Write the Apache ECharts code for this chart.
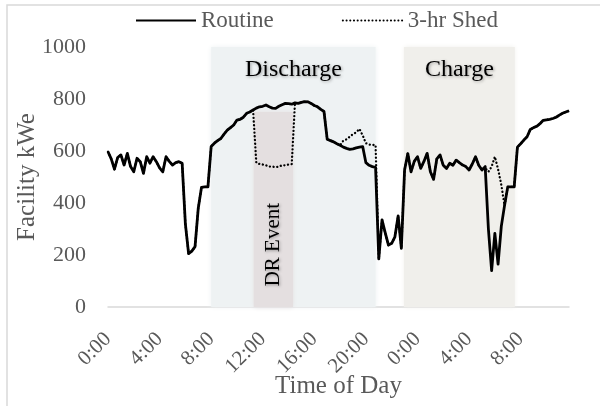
<!DOCTYPE html>
<html><head><meta charset="utf-8">
<script src="https://cdn.jsdelivr.net/npm/echarts@6/dist/echarts.min.js"></script>
<style>html,body{margin:0;padding:0;background:#fff}#c{width:600px;height:406px}</style>
</head><body><div id="c"></div>
<script>
// 15-minute samples over 36 hours (0:00 day 1 to 11:45 day 2)
const stepHours = 0.25;
const routine = [
 597,570,530,575,585,546,591,540,520,572,
 559,514,578,553,578,559,535,520,578,560,
 546,555,559,553,320,205,215,232,380,460,
 462,462,617,630,640,648,665,680,690,700,
 719,722,730,745,750,758,765,770,772,777,
 770,765,764,772,778,783,782,780,785,783,
 787,790,789,783,775,770,760,752,645,640,
 635,628,622,615,610,606,608,612,615,617,
 555,545,540,537,185,335,285,238,245,270,
 350,226,527,590,520,560,578,533,560,591,
 520,491,570,585,545,533,553,545,565,555,
 546,540,527,550,578,545,527,540,300,140,
 283,165,310,390,462,462,462,615,628,642,
 655,683,690,695,705,718,720,722,725,730,
 738,745,750,755
];
const shed = [
 597,570,530,575,585,546,591,540,520,572,
 559,514,578,553,578,559,535,520,578,560,
 546,555,559,553,320,205,215,232,380,460,
 462,462,617,630,640,648,665,680,690,700,
 719,722,730,745,750,758,555,550,548,545,
 540,540,538,540,545,545,548,550,785,783,
 787,790,789,783,775,770,760,752,645,640,
 635,628,622,640,645,655,665,672,685,660,
 630,625,623,623,185,335,285,238,245,270,
 350,226,527,590,520,560,578,533,560,591,
 520,491,570,585,545,533,553,545,565,555,
 546,540,527,550,578,545,527,535,520,540,
 578,530,470,390,462,462,462,615,628,642,
 655,683,690,695,705,718,720,722,725,730,
 738,745,750,755
];
const xTickLabels = ['0:00','4:00','8:00','12:00','16:00','20:00','0:00','4:00','8:00'];
const yTicks = [0,200,400,600,800,1000];
// shaded periods in hours from start: [start, end, top kWe]
const dischargeBand = [8.0, 20.75, 1000];
const chargeBand = [22.95, 31.55, 1000];
const drBand = [11.3, 14.35, 750];

const hours = routine.map((_, i) => i * stepHours);
const pair = arr => arr.map((v, i) => [hours[i], v]);

const FONT = 'Liberation Serif';
const GREY = '#595959';
const chart = echarts.init(document.getElementById('c'), null, {renderer: 'canvas'});
chart.setOption({
  animation: false,
  backgroundColor: '#ffffff',
  grid: {left: 108, right: 31, top: 47, bottom: 99, outerBoundsMode: 'none', containLabel: false},
  graphic: [{
    type: 'rect', silent: true, z: -10,
    shape: {x: 7, y: 5, width: 620, height: 420},
    style: {fill: null, stroke: '#d9d9d9', lineWidth: 1.5}
  }],
  legend: {
    top: 4, left: 130, itemWidth: 60, itemHeight: 4, itemGap: 68,
    itemStyle: {opacity: 0},
    textStyle: {fontFamily: FONT, fontSize: 23, color: GREY},
    data: ['Routine', '3-hr Shed']
  },
  xAxis: {
    type: 'value', min: 0, max: hours[hours.length - 1], interval: 4,
    axisLine: {show: true, onZero: true, lineStyle: {color: '#d9d9d9', width: 1.5}},
    axisTick: {show: false}, splitLine: {show: false},
    axisLabel: {
      rotate: 45, margin: 29, fontFamily: FONT, fontSize: 21, color: GREY,
      showMaxLabel: false,
      formatter: v => (Math.abs(v / 4 - Math.round(v / 4)) < 1e-6 ? (xTickLabels[Math.round(v / 4)] || '') : '')
    },
    name: 'Time of Day', nameLocation: 'middle', nameGap: 67, nameMoveOverlap: false,
    nameTextStyle: {fontFamily: FONT, fontSize: 25, color: GREY}
  },
  yAxis: {
    type: 'value', min: yTicks[0], max: yTicks[yTicks.length - 1], interval: 200,
    axisLine: {show: false}, axisTick: {show: false}, splitLine: {show: false},
    axisLabel: {margin: 22, fontFamily: FONT, fontSize: 22, color: GREY, formatter: v => String(v)},
    name: 'Facility kWe', nameLocation: 'middle', nameGap: 68, nameMoveOverlap: false,
    nameTextStyle: {fontFamily: FONT, fontSize: 25, color: GREY}
  },
  series: [
    {
      name: 'bands', type: 'line', data: [], silent: true, z: 1,
      markArea: {
        silent: true,
        data: [
          [{xAxis: dischargeBand[0], yAxis: 0,
            itemStyle: {color: '#eef2f3', shadowColor: '#eef2f3', shadowBlur: 5},
            label: {show: true, formatter: 'Discharge', position: ['50%', 23], align: 'center', verticalAlign: 'middle',
              fontFamily: FONT, fontSize: 24, color: '#000',
              textShadowColor: 'rgba(0,0,0,0.35)', textShadowBlur: 3, textShadowOffsetX: 1, textShadowOffsetY: 1}},
           {xAxis: dischargeBand[1], yAxis: dischargeBand[2]}],
          [{xAxis: chargeBand[0], yAxis: 0,
            itemStyle: {color: '#f0efeb', shadowColor: '#f0efeb', shadowBlur: 5},
            label: {show: true, formatter: 'Charge', position: ['50%', 23], align: 'center', verticalAlign: 'middle',
              fontFamily: FONT, fontSize: 24, color: '#000',
              textShadowColor: 'rgba(0,0,0,0.35)', textShadowBlur: 3, textShadowOffsetX: 1, textShadowOffsetY: 1}},
           {xAxis: chargeBand[1], yAxis: chargeBand[2]}],
          [{xAxis: drBand[0], yAxis: 0,
            itemStyle: {color: '#e4dfe0', shadowColor: '#e4dfe0', shadowBlur: 5},
            label: {show: true, formatter: 'DR Event', position: ['50%', '68%'], align: 'center', verticalAlign: 'middle',
              rotate: 90, fontFamily: FONT, fontSize: 21, color: '#000',
              textShadowColor: 'rgba(0,0,0,0.35)', textShadowBlur: 3, textShadowOffsetX: 1, textShadowOffsetY: 1}},
           {xAxis: drBand[1], yAxis: drBand[2]}]
        ]
      }
    },
    {
      name: '3-hr Shed', type: 'line', data: pair(shed), symbol: 'none', z: 3,
      lineStyle: {color: '#000', width: 2.3, type: [0.1, 3.6], cap: 'round'},
      itemStyle: {color: '#000'}
    },
    {
      name: 'Routine', type: 'line', data: pair(routine), symbol: 'none', z: 4,
      lineStyle: {color: '#000', width: 2.8, join: 'round'},
      itemStyle: {color: '#000'}
    }
  ]
});
</script>
</body></html>
